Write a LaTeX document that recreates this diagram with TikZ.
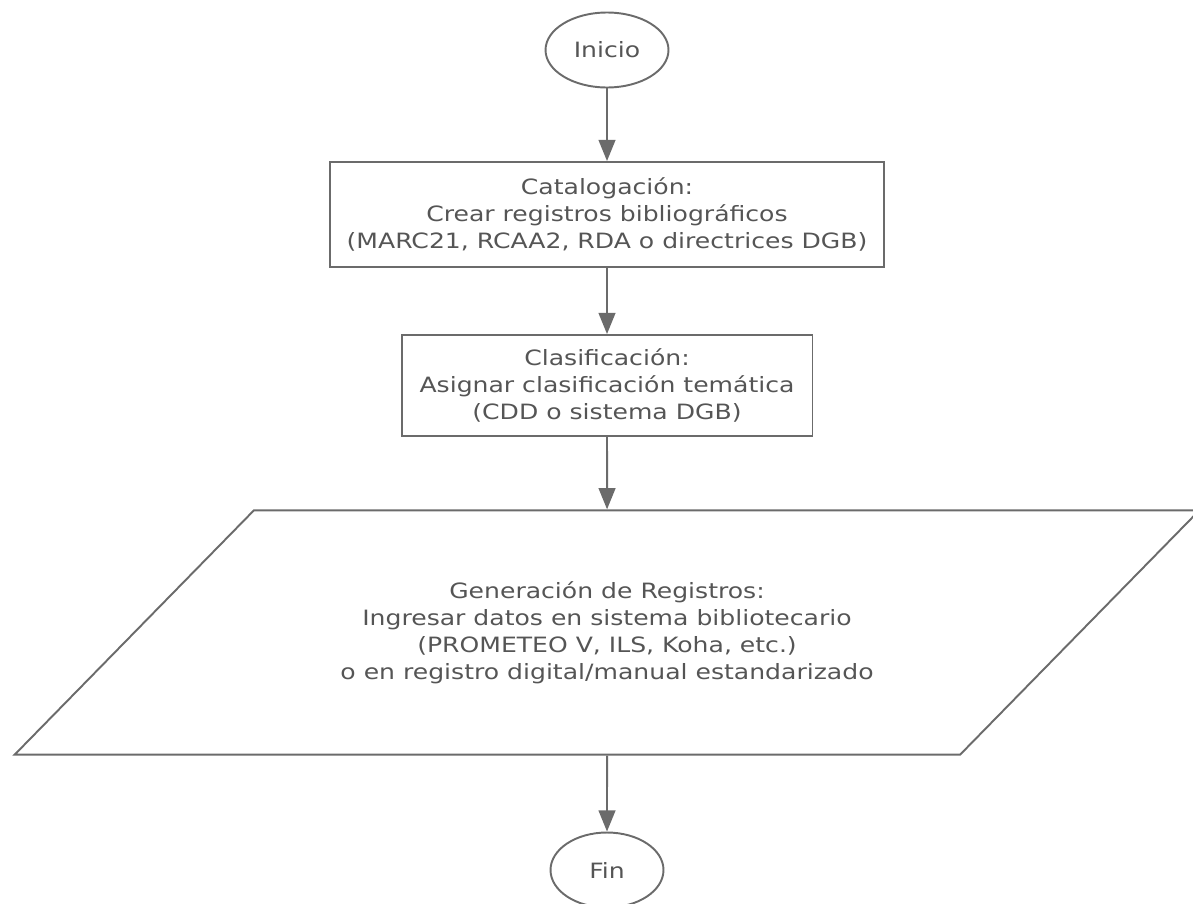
\documentclass[tikz,border=0pt]{standalone}
\usepackage{fontspec}
\setmainfont{DejaVu Sans}[FakeStretch=1.19]
\usetikzlibrary{positioning, shapes.geometric, arrows.meta}
\definecolor{linea}{HTML}{6B6B6B}
\definecolor{texto}{HTML}{555555}
\tikzset{
	flujo/.style={draw=linea, line width=1.1pt, text=texto, align=center, font=\fontsize{12pt}{15.4pt}\selectfont},
	terminal/.style={flujo, ellipse, inner sep=0pt, minimum height=1.5cm},
	proceso/.style={flujo, rectangle},
	datos/.style={flujo, trapezium, trapezium left angle=45.6, trapezium right angle=134.4, trapezium stretches body=true},
	flecha/.style={draw=linea, line width=1.1pt, -{Triangle[length=12pt,width=9.5pt]}}
}

\begin{document}
\begin{tikzpicture}[x=0.02cm, y=-0.02cm]
			\useasboundingbox (0,0) rectangle (1193,903);

			\node[terminal, minimum width=2.46cm] (Ini) at (607,50) {Inicio};
			\node[proceso, minimum width=11.08cm, minimum height=2.1cm] (Cat) at (607,214.5)
				{Catalogación:\\Crear registros bibliográficos\\(MARC21, RCAA2, RDA o directrices DGB)};
			\node[proceso, minimum width=8.22cm, minimum height=2.02cm] (Cla) at (607,385.5)
				{Clasificación:\\Asignar clasificación temática\\(CDD o sistema DGB)};
			\node[datos, minimum width=23.7cm, inner ysep=1.42cm] (Gen) at (607,632.5)
				{Generación de Registros:\\Ingresar datos en sistema bibliotecario\\(PROMETEO V, ILS, Koha, etc.)\\o en registro digital/manual estandarizado};
			\node[terminal, minimum width=2.26cm] (Fin) at (607,870) {Fin};

			\draw[flecha] (Ini) -- (Cat);
			\draw[flecha] (Cat) -- (Cla);
			\draw[flecha] (Cla) -- (Gen);
			\draw[flecha] (Gen) -- (Fin);
		\end{tikzpicture}
\end{document}
